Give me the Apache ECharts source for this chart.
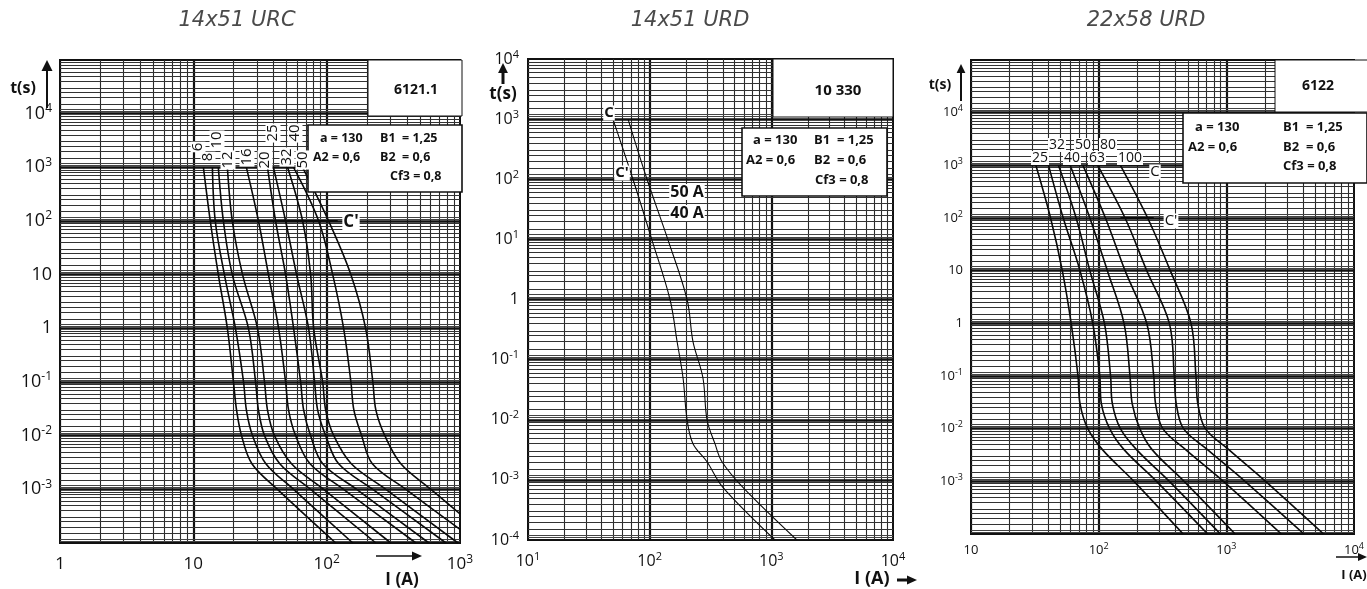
<!DOCTYPE html>
<html><head><meta charset="utf-8">
<script src="https://cdn.jsdelivr.net/npm/echarts@6/dist/echarts.min.js"></script>
<style>html,body{margin:0;padding:0;background:#fff}#c{width:1367px;height:589px}</style>
</head><body><div id="c"></div>
<script>
// ================= DATA =================
const panelTitles = ['14x51 URC', '14x51 URD', '22x58 URD'];
const panelCodes = ['6121.1', '10 330', '6122'];

// ---- Panel 1 : 14x51 URC  ([I (A), t (s)]) ----
const p1Ratings = ['6', '8', '10', '12', '16', '20', '25', '32', '40', '50'];
const p1_6A  = [[11.9,1000],[13.4,100],[15.4,10],[18.0,1],[20.0,0.1],[21.1,0.03],[23.0,0.01],[27.5,0.003],[42.8,0.001],[117,0.0001]];
const p1_8A  = [[13.9,1000],[14.6,100],[17.1,10],[20.7,1],[23.8,0.1],[25.0,0.03],[27.8,0.01],[35.0,0.003],[56.5,0.001],[157,0.0001]];
const p1_10A = [[15.4,1000],[16.8,100],[19.6,10],[25.9,1],[29.3,0.1],[30.8,0.03],[34.2,0.01],[44.5,0.003],[75.8,0.001],[234,0.0001]];
const p1_12A = [[18.0,1000],[19.6,100],[23.4,10],[30.3,1],[34.2,0.1],[36.0,0.03],[40.6,0.01],[54.5,0.003],[94.9,0.001],[303,0.0001]];
const p1_16A = [[25.0,1000],[30.8,100],[36.6,10],[43.6,1],[49.2,0.1],[51.8,0.03],[58.5,0.01],[75.0,0.003],[134,0.001],[467,0.0001]];
const p1_20A = [[36.0,1000],[41.4,100],[49.2,10],[56.5,1],[63.8,0.1],[67.2,0.03],[75.8,0.01],[93.5,0.003],[168,0.001],[585,0.0001]];
const p1_25A = [[39.9,1000],[49.2,100],[59.5,10],[73.2,1],[81.2,0.1],[85.6,0.03],[98.3,0.01],[123,0.003],[222,0.001],[785,0.0001]];
const p1_32A = [[50.9,1000],[66.0,100],[75.8,10],[79.9,1],[93.3,0.1],[98.3,0.03],[113,0.01],[153,0.003],[278,0.001],[966,0.0001]];
const p1_40A = [[56.5,1000],[87.1,100],[111,10],[134,1],[152,0.1],[160,0.03],[183,0.01],[220,0.003],[393,0.001],[1000,0.00018]];
const p1_50A = [[66.0,1000],[103.5,100],[152,10],[196,1],[222,0.1],[234,0.03],[273,0.01],[360,0.003],[605,0.001],[1000,0.00035]];
const p1_Cprime = [[13.4,100],[121,100]];

// ---- Panel 2 : 14x51 URD ----
const p2Ratings = ['40 A', '50 A'];
const p2_40A = [[49.9,1000],[72.9,100],[104,10],[147,1],[168,0.2],[188,0.05],[203,0.01],[227,0.004],[296,0.002],[400,0.00075],[1072,0.0001]];
const p2_50A = [[66.4,1000],[95.1,100],[141,10],[203,1],[227,0.2],[274,0.05],[296,0.01],[344,0.004],[393,0.002],[584,0.00075],[1622,0.0001]];

// ---- Panel 3 : 22x58 URD ----
const p3Ratings = ['25', '32', '40', '50', '63', '80', '100'];
const p3_25A  = [[32.2,1000],[42.0,100],[51.9,10],[60.9,1],[68.9,0.1],[71.4,0.03],[82.2,0.01],[107,0.004],[189,0.001],[459,0.0001]];
const p3_32A  = [[40.5,1000],[52.8,100],[71.4,10],[89.9,1],[102,0.1],[105,0.03],[122,0.01],[158,0.004],[284,0.001],[714,0.0001]];
const p3_40A  = [[48.4,1000],[66.6,100],[85.3,10],[111,1],[124,0.1],[128,0.03],[148,0.01],[198,0.004],[358,0.001],[899,0.0001]];
const p3_50A  = [[59.8,1000],[85.3,100],[117,10],[158,1],[176,0.1],[183,0.03],[210,0.01],[262,0.004],[467,0.001],[1172,0.0001]];
const p3_63A  = [[75.3,1000],[113,100],[161,10],[238,1],[270,0.1],[279,0.03],[318,0.01],[480,0.004],[948,0.001],[2697,0.0001]];
const p3_80A  = [[98.2,1000],[161,100],[238,10],[358,1],[391,0.1],[405,0.03],[462,0.01],[712,0.004],[1400,0.001],[4055,0.0001]];
const p3_100A = [[148,1000],[242,100],[364,10],[529,1],[578,0.1],[598,0.03],[685,0.01],[1045,0.004],[2030,0.001],[5777,0.0001]];
const p3_Cprime = [[148,100],[270,100]];

// ---- Tick labels [base, superscript] ----
const p1XTicks = [1, 10, 100, 1000];
const p1XText  = [['1',''],['10',''],['10','2'],['10','3']];
const p1YTicks = [1e-3, 1e-2, 1e-1, 1, 10, 100, 1e3, 1e4];
const p1YText  = [['10','-3'],['10','-2'],['10','-1'],['1',''],['10',''],['10','2'],['10','3'],['10','4']];
const p2XTicks = [10, 100, 1000, 10000];
const p2XText  = [['10','1'],['10','2'],['10','3'],['10','4']];
const p2YTicks = [1e-4, 1e-3, 1e-2, 1e-1, 1, 10, 100, 1e3, 1e4];
const p2YText  = [['10','-4'],['10','-3'],['10','-2'],['10','-1'],['1',''],['10','1'],['10','2'],['10','3'],['10','4']];
const p3XTicks = [10, 100, 1000, 10000];
const p3XText  = [['10',''],['10','2'],['10','3'],['10','4']];
const p3YTicks = [1e-3, 1e-2, 1e-1, 1, 10, 100, 1e3, 1e4];
const p3YText  = [['10','-3'],['10','-2'],['10','-1'],['1',''],['10',''],['10','2'],['10','3'],['10','4']];

const paramTexts = ['a = 130', 'B1  = 1,25', 'A2 = 0,6', 'B2  = 0,6', 'Cf3 = 0,8'];

// log-grid multipliers (axis decoration)
const vMult = [1,2,3,4,5,6,7,8,9];
const hMult = [1,1.1,1.2,1.5,2,2.5,3,4,5,6,7,8,9];

// ================= CHART =================
const FONT = '"Open Sans", "DejaVu Sans", sans-serif';
const chart = echarts.init(document.getElementById('c'), null, {renderer: 'canvas'});

function fmt(ticks, text) {
  return function (v) {
    const e = Math.round(Math.log10(v));
    const i = ticks.findIndex(t => Math.round(Math.log10(t)) === e);
    if (i < 0) return '';
    const [b, s] = text[i];
    return s ? '{b|' + b + '}{s|' + s + '}' : '{b|' + b + '}';
  };
}
function richFor(size, sup) {
  return {
    b: {fontSize: size, fontFamily: FONT, color: '#111', lineHeight: size + 4},
    s: {fontSize: sup, fontFamily: FONT, color: '#111', verticalAlign: 'top', lineHeight: size + 4}
  };
}
function axisCfg(idx, min, max, ticks, text, size, sup, margin) {
  return {type: 'log', logBase: 10, gridIndex: idx, min, max, splitNumber: Math.round(Math.log10(max / min)),
    axisLine: {show: false}, axisTick: {show: false}, splitLine: {show: false},
    axisLabel: {show: true, margin, formatter: fmt(ticks, text), rich: richFor(size, sup), showMinLabel: true, showMaxLabel: true}};
}
function gridSeries(idx, xMinE, xMaxE, yMinE, yMaxE) {
  const xmin = Math.pow(10, xMinE), xmax = Math.pow(10, xMaxE);
  const ymin = Math.pow(10, yMinE), ymax = Math.pow(10, yMaxE);
  const data = [];
  for (let e = xMinE; e < xMaxE; e++) for (const k of vMult) {
    const v = k * Math.pow(10, e);
    data.push({coords: [[v, ymin], [v, ymax]], lineStyle: {width: k === 1 ? 2.2 : 1.1, color: k === 1 ? '#111' : '#2a2a2a'}});
  }
  for (let e = yMinE; e < yMaxE; e++) for (const k of hMult) {
    const v = k * Math.pow(10, e);
    const major = k === 1;
    data.push({coords: [[xmin, v], [xmax, v]], lineStyle: {width: major ? 2.6 : 1, color: major ? '#111' : (k < 1.3 ? '#444' : '#333')}});
  }
  return {type: 'lines', coordinateSystem: 'cartesian2d', xAxisIndex: idx, yAxisIndex: idx, polyline: false,
    silent: true, z: 1, symbol: 'none', effect: {show: false}, data, lineStyle: {opacity: 1}};
}
function curve(idx, name, data, width) {
  return {type: 'line', name, xAxisIndex: idx, yAxisIndex: idx, data, showSymbol: false, symbol: 'none',
    smooth: 0.35, clip: true, silent: true, z: 5, lineStyle: {color: '#0a0a0a', width}};
}

const series = [
  gridSeries(0, 0, 3, -4, 5),
  gridSeries(1, 1, 4, -4, 4),
  gridSeries(2, 1, 4, -4, 5)
];
[p1_6A, p1_8A, p1_10A, p1_12A, p1_16A, p1_20A, p1_25A, p1_32A, p1_40A, p1_50A]
  .forEach((d, i) => series.push(curve(0, p1Ratings[i] + ' A', d, 1.6)));
series.push(curve(0, "C'", p1_Cprime, 1.8));
[p2_40A, p2_50A].forEach((d, i) => series.push(curve(1, p2Ratings[i], d, 1.1)));
[p3_25A, p3_32A, p3_40A, p3_50A, p3_63A, p3_80A, p3_100A]
  .forEach((d, i) => series.push(curve(2, p3Ratings[i] + ' A', d, 1.6)));
series.push(curve(2, "C'", p3_Cprime, 1.8));

// ---------- graphic helpers ----------
function T(x, y, text, size, o) {
  o = o || {};
  const el = {type: 'text', x, y, z: 60, silent: true,
    style: {text, font: (o.italic ? 'italic ' : '') + (o.weight || 'normal') + ' ' + size + 'px ' + (o.family || FONT),
      fill: o.fill || '#111', align: o.align || 'center', verticalAlign: 'middle'}};
  if (o.bg) { el.style.backgroundColor = '#fff'; el.style.padding = [0, 1]; }
  if (o.rotation) el.rotation = o.rotation;
  return el;
}
function R(x, y, w, h, lw) {
  return {type: 'rect', z: 40, silent: true, shape: {x, y, width: w, height: h}, style: {fill: '#fff', stroke: '#111', lineWidth: lw}};
}
function arrowUp(x, y1, y2, lw, head) {
  return [
    {type: 'line', z: 60, silent: true, shape: {x1: x, y1: y1, x2: x, y2: y2 + head}, style: {stroke: '#111', lineWidth: lw}},
    {type: 'polygon', z: 60, silent: true, shape: {points: [[x, y2], [x - head * 0.55, y2 + head + 1], [x + head * 0.55, y2 + head + 1]]}, style: {fill: '#111'}}
  ];
}
function arrowRight(y, x1, x2, lw, head) {
  return [
    {type: 'line', z: 60, silent: true, shape: {x1: x1, y1: y, x2: x2 - head, y2: y}, style: {stroke: '#111', lineWidth: lw}},
    {type: 'polygon', z: 60, silent: true, shape: {points: [[x2, y], [x2 - head - 1, y - head * 0.5], [x2 - head - 1, y + head * 0.5]]}, style: {fill: '#111'}}
  ];
}

const TITLE_FONT = '"DejaVu Sans", sans-serif';
const g = [];
g.push(T(237, 21, panelTitles[0], 21, {italic: true, fill: '#4a4a4a', family: TITLE_FONT}));
g.push(T(690, 21, panelTitles[1], 21, {italic: true, fill: '#4a4a4a', family: TITLE_FONT}));
g.push(T(1146, 21, panelTitles[2], 21, {italic: true, fill: '#4a4a4a', family: TITLE_FONT}));

// ---- panel 1 decorations ----
g.push(R(368, 60, 94, 56, 1));
g.push(T(416, 90, panelCodes[0], 14, {weight: 'bold'}));
g.push(R(308, 125, 154, 67, 1.6));
g.push(T(320, 138, paramTexts[0], 12.5, {weight: 'bold', align: 'left'}));
g.push(T(380, 138, paramTexts[1], 12.5, {weight: 'bold', align: 'left'}));
g.push(T(313, 157, paramTexts[2], 12.5, {weight: 'bold', align: 'left'}));
g.push(T(380, 157, paramTexts[3], 12.5, {weight: 'bold', align: 'left'}));
g.push(T(390, 176, paramTexts[4], 12.5, {weight: 'bold', align: 'left'}));
const p1LabelPos = [[198,147],[208,157],[217,140],[228,160],[247,157],[265,160],[273,133],[287,157],[295,133],[303,160]];
p1Ratings.forEach((r, i) => g.push(T(p1LabelPos[i][0], p1LabelPos[i][1], r, 15, {rotation: Math.PI / 2, bg: true})));
g.push(T(351, 222, "C'", 17, {weight: 'bold', bg: true}));
g.push(T(23, 88, 't(s)', 16, {weight: 'bold'}));
arrowUp(47, 108, 60, 2, 10).forEach(e => g.push(e));
g.push(T(402, 580, 'I (A)', 17, {weight: 'bold'}));
arrowRight(556, 376, 422, 1.5, 9).forEach(e => g.push(e));

// ---- panel 2 decorations ----
g.push(R(773, 59, 120, 58, 1));
g.push(T(838, 91, panelCodes[1], 15, {weight: 'bold'}));
g.push(R(742, 128, 145, 68, 1.6));
g.push(T(753, 140, paramTexts[0], 13, {weight: 'bold', align: 'left'}));
g.push(T(814, 140, paramTexts[1], 13, {weight: 'bold', align: 'left'}));
g.push(T(746, 160, paramTexts[2], 13, {weight: 'bold', align: 'left'}));
g.push(T(814, 160, paramTexts[3], 13, {weight: 'bold', align: 'left'}));
g.push(T(815, 180, paramTexts[4], 13, {weight: 'bold', align: 'left'}));
g.push(T(609, 113, 'C', 15, {weight: 'bold', bg: true}));
g.push(T(622, 173, "C'", 15, {weight: 'bold', bg: true}));
g.push(T(687, 192, p2Ratings[1], 16, {weight: 'bold', bg: true}));
g.push(T(687, 213, p2Ratings[0], 16, {weight: 'bold', bg: true}));
g.push(T(503, 94, 't(s)', 17, {weight: 'bold'}));
arrowUp(503, 84, 63, 3, 9).forEach(e => g.push(e));
g.push(T(872, 579, 'I (A)', 18, {weight: 'bold'}));
arrowRight(580, 897, 917, 3, 9).forEach(e => g.push(e));

// ---- panel 3 decorations ----
g.push(R(1275, 60, 95, 52, 1));
g.push(T(1318, 86, panelCodes[2], 14, {weight: 'bold'}));
g.push(R(1183, 113, 184, 70, 1.6));
g.push(T(1195, 127, paramTexts[0], 13, {weight: 'bold', align: 'left'}));
g.push(T(1283, 127, paramTexts[1], 13, {weight: 'bold', align: 'left'}));
g.push(T(1188, 147, paramTexts[2], 13, {weight: 'bold', align: 'left'}));
g.push(T(1283, 147, paramTexts[3], 13, {weight: 'bold', align: 'left'}));
g.push(T(1283, 166, paramTexts[4], 13, {weight: 'bold', align: 'left'}));
const p3LabelPos = [[1040,158],[1057,145],[1072,158],[1083,145],[1097,158],[1108,145],[1130,158]];
p3Ratings.forEach((r, i) => g.push(T(p3LabelPos[i][0], p3LabelPos[i][1], r, 14, {bg: true})));
g.push(T(1155, 172, 'C', 15, {bg: true}));
g.push(T(1171, 221, "C'", 15, {bg: true}));
g.push(T(940, 85, 't(s)', 14, {weight: 'bold'}));
arrowUp(961, 101, 64, 2, 8).forEach(e => g.push(e));
g.push(T(1354, 575, 'I (A)', 13, {weight: 'bold'}));
arrowRight(557, 1336, 1367, 1.5, 8).forEach(e => g.push(e));

const option = {
  animation: false,
  backgroundColor: '#fff',
  grid: [
    {left: 60, top: 60, width: 400, height: 483, show: true, borderColor: '#111', borderWidth: 2, backgroundColor: 'transparent'},
    {left: 528, top: 59, width: 365, height: 481, show: true, borderColor: '#111', borderWidth: 2, backgroundColor: 'transparent'},
    {left: 971, top: 60, width: 390, height: 474, show: true, borderColor: '#111', borderWidth: 2, backgroundColor: 'transparent'}
  ],
  xAxis: [
    axisCfg(0, 1, 1000, p1XTicks, p1XText, 17, 12, 11),
    axisCfg(1, 10, 10000, p2XTicks, p2XText, 16, 11, 11),
    axisCfg(2, 10, 10000, p3XTicks, p3XText, 13, 9, 8)
  ],
  yAxis: [
    axisCfg(0, 1e-4, 1e5, p1YTicks, p1YText, 18, 12, 8),
    axisCfg(1, 1e-4, 1e4, p2YTicks, p2YText, 16, 11, 9),
    axisCfg(2, 1e-4, 1e5, p3YTicks, p3YText, 13, 9, 8)
  ],
  series,
  graphic: {elements: g}
};
chart.setOption(option);
</script>
</body></html>
